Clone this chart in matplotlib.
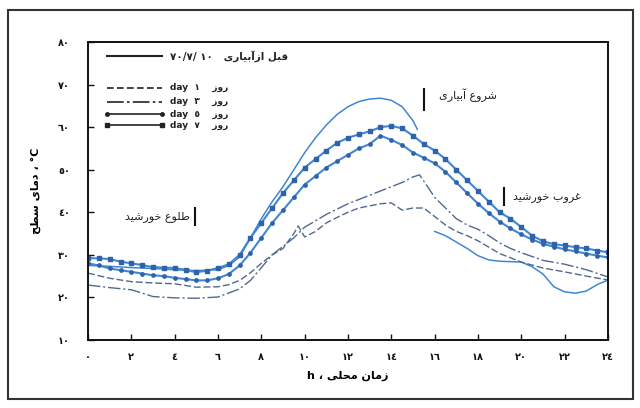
import numpy as np
import matplotlib
matplotlib.use("Agg")
import matplotlib.pyplot as plt
from matplotlib.patches import Rectangle

plt.rcParams['font.family'] = ['DejaVu Sans']

# Persian letter forms: (isolated, final, initial, medial); right-joining letters have two
FORMS = {
    'ا': ('\uFE8D', '\uFE8E'), 'آ': ('\uFE81', '\uFE82'),
    'د': ('\uFEA9', '\uFEAA'), 'ر': ('\uFEAD', '\uFEAE'),
    'ز': ('\uFEAF', '\uFEB0'), 'و': ('\uFEED', '\uFEEE'),
    'ب': ('\uFE8F', '\uFE90', '\uFE91', '\uFE92'),
    'ح': ('\uFEA1', '\uFEA2', '\uFEA3', '\uFEA4'),
    'خ': ('\uFEA5', '\uFEA6', '\uFEA7', '\uFEA8'),
    'س': ('\uFEB1', '\uFEB2', '\uFEB3', '\uFEB4'),
    'ش': ('\uFEB5', '\uFEB6', '\uFEB7', '\uFEB8'),
    'ط': ('\uFEC1', '\uFEC2', '\uFEC3', '\uFEC4'),
    'ع': ('\uFEC9', '\uFECA', '\uFECB', '\uFECC'),
    'غ': ('\uFECD', '\uFECE', '\uFECF', '\uFED0'),
    'ق': ('\uFED5', '\uFED6', '\uFED7', '\uFED8'),
    'ل': ('\uFEDD', '\uFEDE', '\uFEDF', '\uFEE0'),
    'م': ('\uFEE1', '\uFEE2', '\uFEE3', '\uFEE4'),
    'ن': ('\uFEE5', '\uFEE6', '\uFEE7', '\uFEE8'),
    'ی': ('\uFBFC', '\uFBFD', '\uFBFE', '\uFBFF'),
}


def fa(s):
    # shape letters and reverse to visual order
    out = []
    for i, ch in enumerate(s):
        f = FORMS.get(ch)
        if f is None:
            out.append(ch)
            continue
        prev = s[i - 1] if i > 0 else ''
        nxt = s[i + 1] if i + 1 < len(s) else ''
        join_prev = prev in FORMS and len(FORMS[prev]) == 4
        join_next = nxt in FORMS and len(f) == 4
        if join_prev and join_next:
            out.append(f[3])
        elif join_prev:
            out.append(f[1])
        elif join_next:
            out.append(f[2])
        else:
            out.append(f[0])
    return ''.join(reversed(out))


def digits(n):
    return ''.join(chr(0x0660 + int(c)) for c in str(n))


# surface temperature, half-hourly, days 5 and 7 after irrigation
hours_half = np.arange(0, 24.5, 0.5)
day5 = [28.0, 27.5, 26.8, 26.4, 26.0, 25.6, 25.2, 25.0, 24.6, 24.3, 24.0, 24.0,
        24.5, 25.5, 27.5, 30.5, 34.0, 37.5, 40.5, 43.5, 46.5, 48.5, 50.5, 52.0,
        53.5, 55.0, 56.0, 58.0, 57.0, 55.8, 54.0, 52.8, 51.5, 49.5, 47.0, 44.5,
        42.0, 39.8, 37.8, 36.2, 34.8, 33.6, 32.6, 31.9, 31.3, 30.8, 30.3, 29.8, 29.4]
day7 = [29.2, 29.2, 29.0, 28.4, 28.0, 27.6, 27.1, 27.0, 26.9, 26.5, 25.9, 26.3,
        26.9, 27.8, 30.0, 34.0, 37.5, 41.0, 44.5, 47.5, 50.5, 52.5, 54.5, 56.3,
        57.5, 58.3, 59.0, 60.0, 60.3, 59.7, 58.0, 56.0, 54.5, 52.5, 50.0, 47.5,
        45.0, 42.5, 40.0, 38.5, 36.5, 34.5, 33.2, 32.5, 32.2, 31.8, 31.5, 31.0, 30.6]

# before irrigation (line breaks when irrigation starts)
before_h = [0, 1, 2, 3, 4, 5, 6, 6.5, 7, 7.5, 8, 8.5, 9, 9.5, 10, 10.5, 11, 11.5,
            12, 12.5, 13, 13.5, 14, 14.5, 15, 15.2, 15.6, 16, 16.5, 17, 17.5, 18,
            18.5, 19, 19.5, 20, 20.5, 21, 21.5, 22, 22.5, 23, 23.5, 24]
before_t = [27.5, 27.3, 27.0, 26.8, 26.5, 26.3, 26.5, 27.5, 29.5, 34.0, 38.5, 42.5,
            46.0, 50.0, 54.0, 57.5, 60.5, 63.0, 64.8, 66.0, 66.6, 66.8, 66.3, 64.8,
            61.5, 59.5, np.nan, 35.5, 34.5, 33.0, 31.5, 29.8, 28.8, 28.5, 28.4, 28.3,
            27.2, 25.5, 22.5, 21.3, 21.0, 21.5, 23.0, 24.1]

day1_h = [0, 1, 2, 3, 4, 5, 6, 6.5, 7, 7.5, 8, 8.5, 9, 9.5, 9.7, 10, 10.5, 11, 11.5,
          12, 12.5, 13, 13.5, 14, 14.5, 15, 15.5, 16, 16.5, 17, 17.5, 18, 18.5, 19,
          19.5, 20, 21, 22, 23, 24]
day1_t = [25.7, 24.5, 23.7, 23.4, 23.2, 22.4, 22.5, 23.0, 24.0, 25.8, 28.0, 30.0,
          31.5, 35.0, 36.8, 34.2, 35.5, 37.5, 38.8, 40.0, 41.0, 41.5, 42.0, 42.2,
          40.5, 41.0, 41.0, 39.0, 37.0, 35.5, 34.5, 33.3, 31.8, 30.3, 29.3, 28.3,
          26.9, 26.0, 25.0, 24.1]

day3_h = [0, 1, 2, 3, 4, 5, 6, 7, 7.5, 8, 8.5, 9, 9.5, 10, 11, 12, 13, 14, 14.5, 15,
          15.3, 15.7, 16, 16.5, 17, 17.5, 18, 18.5, 19, 19.5, 20, 21, 22, 23, 24]
day3_t = [22.9, 22.3, 21.8, 20.2, 19.9, 19.8, 20.1, 22.0, 24.0, 27.0, 30.0, 32.0,
          34.0, 36.5, 39.5, 42.0, 44.0, 46.0, 47.0, 48.3, 48.8, 45.8, 43.5, 41.0,
          38.5, 37.0, 36.0, 34.5, 32.8, 31.5, 30.5, 28.7, 27.8, 26.5, 24.8]

xticks = list(range(0, 25, 2))
yticks = list(range(10, 81, 10))

fig = plt.figure(figsize=(6.4, 4.08), dpi=100)
ax = fig.add_axes([0.1375, 0.1667, 0.8125, 0.7304])

blue = '#4086d4'
grey_blue = '#51698f'

ax.plot(before_h, before_t, color=blue, lw=1.1)
ax.plot(day1_h, day1_t, color=grey_blue, lw=1.0, ls=(0, (5, 2)))
ax.plot(day3_h, day3_t, color=grey_blue, lw=1.0, ls=(0, (9, 2, 1.5, 2)))
ax.plot(hours_half, day5, color=blue, lw=1.5, marker='o', ms=2.4,
        mfc='#2f62a6', mec='#2f62a6')
ax.plot(hours_half, day7, color=blue, lw=1.5, marker='s', ms=2.8,
        mfc='#2f62a6', mec='#2f62a6')

ax.set_xlim(0, 24)
ax.set_ylim(10, 80)
ax.set_xticks(xticks)
ax.set_xticklabels([digits(v) for v in xticks], fontsize=7, fontweight='bold')
ax.set_yticks(yticks)
ax.set_yticklabels([digits(v) for v in yticks], fontsize=7, fontweight='bold')
ax.tick_params(axis='x', direction='in', length=4, width=1.0, pad=9, colors='#111')
ax.tick_params(axis='y', direction='in', length=4, width=1.0, pad=13, colors='#111')
for s in ax.spines.values():
    s.set_linewidth(1.4)
    s.set_color('#111')

ax.set_xlabel('h ، ' + fa('زمان محلی'), fontsize=8, fontweight='bold', labelpad=6)
ax.set_ylabel(fa('دمای سطح') + ' ، °C', fontsize=8, fontweight='bold', labelpad=12)

# legend drawn by hand
rows = [0.953, 0.846, 0.799, 0.758, 0.7215]
styles = [dict(ls='-', lw=1.5),
          dict(ls=(0, (4, 2)), lw=1.2),
          dict(ls=(0, (10, 2, 1.5, 2)), lw=1.2),
          dict(ls='-', lw=1.2, marker='o', ms=2.5, markevery=[0, 1]),
          dict(ls='-', lw=1.2, marker='s', ms=3.2, markevery=[0, 1])]
labels = [digits(70) + '/' + digits(7) + '/ ' + digits(10) + '   ' + fa('قبل ازآبیاری'),
          'day  ' + digits(1) + '    ' + fa('روز'),
          'day  ' + digits(3) + '    ' + fa('روز'),
          'day  ' + digits(5) + '    ' + fa('روز'),
          'day  ' + digits(7) + '    ' + fa('روز')]
for y, st, lab in zip(rows, styles, labels):
    ax.plot([0.037, 0.142], [y, y], transform=ax.transAxes, color='#222', **st)
    ax.text(0.158, y, lab, transform=ax.transAxes, fontsize=6.5 if lab.startswith('day') else 7.5,
            va='center', ha='left', color='#222', fontweight='bold')

# sunrise, irrigation start, sunset marks
ax.plot([4.95, 4.95], [36.9, 40.9], color='#111', lw=1.5)
ax.text(4.7, 38.9, fa('طلوع خورشید'), fontsize=8, ha='right', va='center', color='#222')
ax.plot([15.5, 15.5], [64.0, 69.0], color='#111', lw=1.5)
ax.text(16.2, 67.4, fa('شروع آبیاری'), fontsize=8, ha='left', va='center', color='#222')
ax.plot([19.2, 19.2], [41.6, 45.8], color='#111', lw=1.5)
ax.text(19.6, 43.4, fa('غروب خورشید'), fontsize=8, ha='left', va='center', color='#222')

fig.add_artist(Rectangle((8 / 640, 1 - 399 / 408), 625 / 640, 389 / 408,
                         transform=fig.transFigure, fill=False, lw=1.5, color='#333'))

fig.savefig('out.png', dpi=100)
